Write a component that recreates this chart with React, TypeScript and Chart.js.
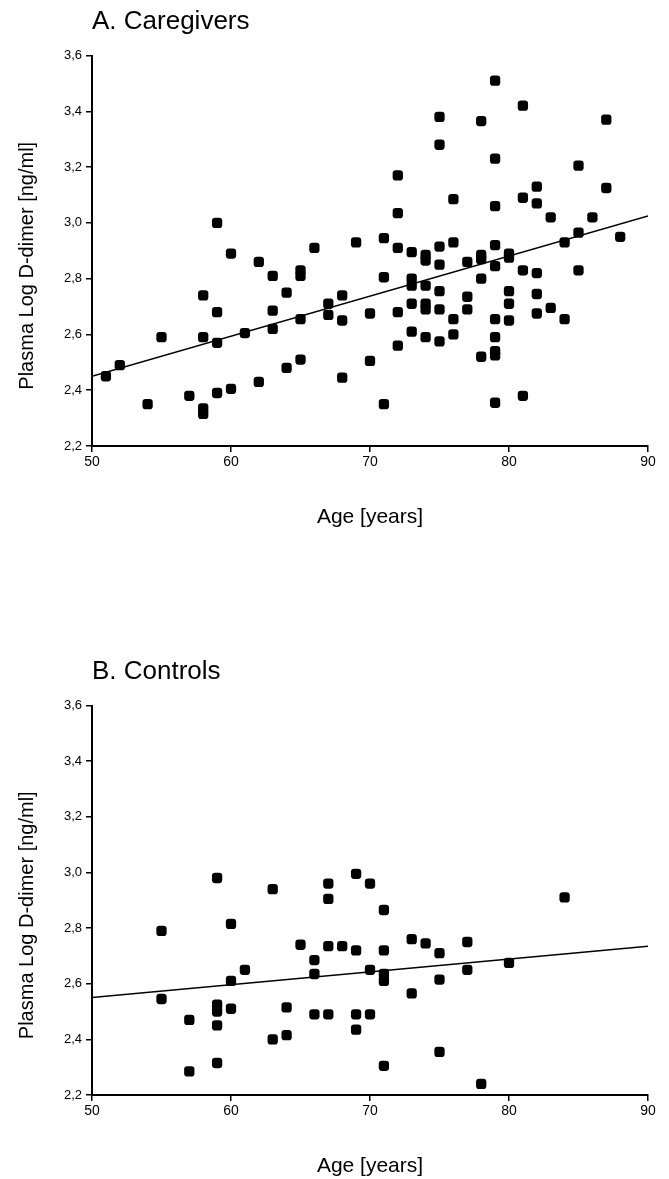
import React, { useEffect, useRef } from "react";
import { Chart, registerables } from "chart.js";

Chart.register(...registerables);

const FONT = "'Liberation Sans', Arial, Helvetica, sans-serif";

// Panel A: Caregivers
const caregiverAges = [
  51, 52, 54, 55, 57, 58, 58, 58, 58, 59, 59, 59, 59, 60, 60, 61, 62, 62, 63, 63,
  63, 64, 64, 65, 65, 65, 65, 66, 67, 67, 68, 68, 68, 69, 70, 70, 71, 71, 71, 72,
  72, 72, 72, 72, 73, 73, 73, 73, 73, 74, 74, 74, 74, 74, 74, 75, 75, 75, 75, 75,
  75, 75, 76, 76, 76, 76, 77, 77, 77, 78, 78, 78, 78, 78, 79, 79, 79, 79, 79, 79,
  79, 79, 79, 79, 80, 80, 80, 80, 80, 81, 81, 81, 81, 82, 82, 82, 82, 82, 83, 83,
  84, 84, 85, 85, 85, 86, 87, 87, 88,
];
const caregiverValues = [
  2.45, 2.49, 2.35, 2.59, 2.38, 2.74, 2.59, 2.335, 2.315, 3.0, 2.68, 2.57, 2.39, 2.89, 2.405, 2.605, 2.86, 2.43, 2.81, 2.685,
  2.62, 2.75, 2.48, 2.83, 2.81, 2.655, 2.51, 2.91, 2.71, 2.67, 2.74, 2.65, 2.445, 2.93, 2.675, 2.505, 2.945, 2.805, 2.35, 3.17,
  3.035, 2.91, 2.68, 2.56, 2.895, 2.8, 2.775, 2.71, 2.61, 2.885, 2.865, 2.775, 2.71, 2.69, 2.59, 3.38, 3.28, 2.915, 2.85, 2.755,
  2.69, 2.575, 3.085, 2.93, 2.655, 2.6, 2.86, 2.735, 2.69, 3.365, 2.885, 2.87, 2.8, 2.52, 3.51, 3.23, 3.06, 2.92, 2.845, 2.655,
  2.59, 2.54, 2.525, 2.355, 2.89, 2.875, 2.755, 2.71, 2.65, 3.42, 3.09, 2.83, 2.38, 3.13, 3.07, 2.82, 2.745, 2.675, 3.02, 2.695,
  2.93, 2.655, 3.205, 2.965, 2.83, 3.02, 3.37, 3.125, 2.95,
];

// Panel B: Controls
const controlAges = [
  55, 55, 57, 57, 59, 59, 59, 59, 59, 60, 60, 60, 61, 63, 63, 64, 64, 65, 66, 66,
  66, 67, 67, 67, 67, 68, 69, 69, 69, 69, 70, 70, 70, 71, 71, 71, 71, 71, 73, 73,
  74, 75, 75, 75, 77, 77, 78, 80, 84,
];
const controlValues = [
  2.79, 2.545, 2.47, 2.285, 2.98, 2.525, 2.5, 2.45, 2.315, 2.815, 2.61, 2.51, 2.65, 2.94, 2.4, 2.515, 2.415, 2.74, 2.685, 2.635,
  2.49, 2.96, 2.905, 2.735, 2.49, 2.735, 2.995, 2.72, 2.49, 2.435, 2.96, 2.65, 2.49, 2.865, 2.72, 2.635, 2.61, 2.305, 2.76, 2.565,
  2.745, 2.71, 2.615, 2.355, 2.75, 2.65, 2.24, 2.675, 2.91,
];

// Regression lines (endpoints at the x-axis limits)
const fitAges = [50, 90];
const caregiverFit = [2.45, 3.025];
const controlFit = [2.55, 2.735];

// Axis ticks
const xTickValues = [50, 60, 70, 80, 90];
const xTickLabels = ["50", "60", "70", "80", "90"];
const yTickValues = [2.2, 2.4, 2.6, 2.8, 3.0, 3.2, 3.4, 3.6];
const yTickLabels = ["2,2", "2,4", "2,6", "2,8", "3,0", "3,2", "3,4", "3,6"];

const yTitlePlugin = {
  id: "yTitle",
  afterDraw(chart: any, _args: any, opts: any) {
    const { ctx, chartArea } = chart;
    ctx.save();
    ctx.font = `${opts.size}px ${FONT}`;
    ctx.fillStyle = "#000";
    ctx.textAlign = "center";
    ctx.textBaseline = "middle";
    ctx.translate(opts.x, (chartArea.top + chartArea.bottom) / 2 + opts.shift);
    ctx.rotate(-Math.PI / 2);
    ctx.fillText(opts.text, 0, 0);
    ctx.restore();
  },
};

type PanelProps = {
  title: string;
  ages: number[];
  values: number[];
  fit: number[];
  top: number;
  height: number;
};

function ScatterPanel({ title, ages, values, fit, top, height }: PanelProps) {
  const ref = useRef<HTMLCanvasElement>(null);
  useEffect(() => {
    const axisGrid = {
      display: true,
      drawOnChartArea: false,
      drawTicks: true,
      tickLength: 6,
      color: "#000",
      lineWidth: 1.5,
    };
    const axisBorder = { display: true, color: "#000", width: 2 };
    const chart = new Chart(ref.current as HTMLCanvasElement, {
      type: "scatter",
      data: {
        datasets: [
          {
            type: "scatter",
            data: ages.map((a, i) => ({ x: a, y: values[i] })),
            pointStyle: "rectRounded",
            pointRadius: 6,
            backgroundColor: "#000",
            borderColor: "#000",
            borderWidth: 0,
          } as any,
          {
            type: "line",
            data: fitAges.map((a, i) => ({ x: a, y: fit[i] })),
            borderColor: "#000",
            borderWidth: 1.5,
            pointRadius: 0,
            fill: false,
            showLine: true,
          } as any,
        ],
      },
      options: {
        responsive: false,
        animation: false,
        layout: { padding: { left: 0, right: 21, top: 0, bottom: 0 } },
        plugins: {
          legend: { display: false },
          tooltip: { enabled: false },
          title: {
            display: true,
            text: title,
            align: "start",
            fullSize: false,
            color: "#000",
            font: { family: FONT, size: 26, weight: "normal" },
            padding: { top: 6, bottom: 18.3 },
          },
          yTitle: { text: "Plasma Log D-dimer [ng/ml]", size: 20, x: 27, shift: 15 },
        } as any,
        scales: {
          x: {
            type: "linear",
            min: 50,
            max: 90,
            afterBuildTicks: (s: any) => {
              s.ticks = xTickValues.map((v) => ({ value: v }));
            },
            ticks: {
              color: "#000",
              font: { family: FONT, size: 14 },
              padding: 2,
              maxRotation: 0,
              callback: (_v: any, i: number) => xTickLabels[i],
            },
            grid: axisGrid,
            border: axisBorder,
            title: {
              display: true,
              text: "Age [years]",
              color: "#000",
              font: { family: FONT, size: 21 },
              padding: { top: 0, bottom: 0 },
            },
            afterFit: (s: any) => {
              s.height = 84;
            },
          },
          y: {
            type: "linear",
            min: 2.2,
            max: 3.6,
            afterBuildTicks: (s: any) => {
              s.ticks = yTickValues.map((v) => ({ value: v }));
            },
            ticks: {
              color: "#000",
              font: { family: FONT, size: 13 },
              padding: 4,
              callback: (_v: any, i: number) => yTickLabels[i],
            },
            grid: axisGrid,
            border: axisBorder,
            afterFit: (s: any) => {
              s.width = 92;
            },
          },
        } as any,
      },
      plugins: [yTitlePlugin],
    });
    return () => chart.destroy();
  }, []);
  return (
    <canvas
      ref={ref}
      width={669}
      height={height}
      style={{ position: "absolute", left: 0, top, width: 669, height }}
    />
  );
}

export default function App() {
  return (
    <div
      style={{
        position: "fixed",
        left: 0,
        top: 0,
        width: 669,
        height: 1179,
        background: "#fff",
        overflow: "hidden",
      }}
    >
      <ScatterPanel
        title="A. Caregivers"
        ages={caregiverAges}
        values={caregiverValues}
        fit={caregiverFit}
        top={0}
        height={530}
      />
      <ScatterPanel
        title="B. Controls"
        ages={controlAges}
        values={controlValues}
        fit={controlFit}
        top={650}
        height={529}
      />
    </div>
  );
}
